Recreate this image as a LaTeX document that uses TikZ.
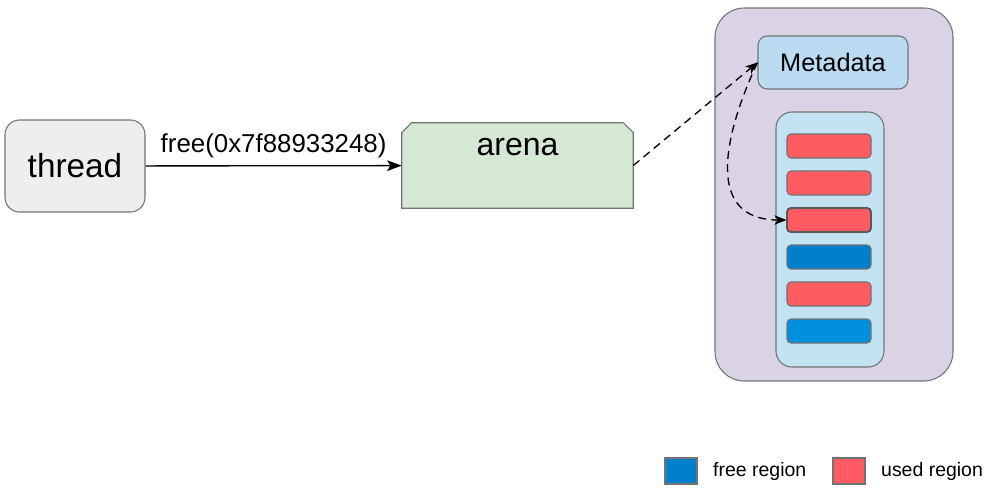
\documentclass[tikz,border=0pt]{standalone}
\usepackage{fontspec}
\setmainfont{Liberation Sans}
\usetikzlibrary{positioning, arrows.meta}
\definecolor{threadFill}{HTML}{EEEEEE}
\definecolor{arenaFill}{HTML}{D5E8D4}
\definecolor{heapFill}{HTML}{DAD3E6}
\definecolor{metaFill}{HTML}{BBDBF3}
\definecolor{listFill}{HTML}{C3E2F2}
\definecolor{usedRed}{HTML}{FF5B63}
\definecolor{freeBlue}{HTML}{007FCC}
\definecolor{freeBlueB}{HTML}{0090DE}
\colorlet{edge}{black!55}

\begin{document}
\begin{tikzpicture}[
  x=0.75pt, y=-0.75pt,
  >={Stealth[length=11pt, width=8pt, inset=2.5pt]},
  box/.style={draw=edge, line width=0.8pt, inner sep=0pt, align=center},
  region/.style={box, rounded corners=3pt, minimum width=63pt, minimum height=18pt},
  swatch/.style={box, minimum width=24pt, minimum height=19.5pt, line width=1.2pt},
  call/.style={->, line width=1pt},
  ptr/.style={-{Stealth[length=9pt, width=7pt, inset=2.5pt]}, line width=1pt, dashed,
              dash pattern=on 6pt off 4pt},
]
\useasboundingbox (0,0) rectangle (988,494);

% ── caller side ──────────────────────────────────────────────────────────────
\node[box, rounded corners=11pt, fill=threadFill, minimum width=105pt,
      minimum height=69pt, font=\fontsize{25}{28}\selectfont] (thread) at (75,166) {thread};

% arena: box with its two top corners cut off
\node[inner sep=0pt, minimum width=173.25pt, minimum height=63.75pt] (arena) at (517.5,165.5) {};
\filldraw[draw=edge, line width=0.8pt, fill=arenaFill]
  (arena.south west) -- ([yshift=-7.5pt]arena.north west) -- ([xshift=7.5pt]arena.north west)
  -- ([xshift=-7.5pt]arena.north east) -- ([yshift=-7.5pt]arena.north east)
  -- (arena.south east) -- cycle;
\node[font=\fontsize{24}{27}\selectfont, anchor=north] (arenalbl)
  at ([yshift=-8pt]arena.north) {arena};

\draw[call] (thread) -- node[above=2pt, font=\fontsize{19.4}{22}\selectfont] (calllbl)
  {free(0x7f88933248)} (arena);

% ── heap ─────────────────────────────────────────────────────────────────────
\node[box, rounded corners=22pt, fill=heapFill, minimum width=178.5pt,
      minimum height=279.75pt] (heap) at (834,194.5) {};
\node[box, rounded corners=7pt, fill=metaFill, minimum width=112.5pt,
      minimum height=39.75pt, font=\fontsize{19}{22}\selectfont] (meta) at (833,62.5) {Metadata};
\node[box, rounded corners=12pt, fill=listFill, minimum width=81pt,
      minimum height=191.25pt] (list) at (830,239.5) {};

% regions, top to bottom
\foreach \i/\y/\col in {1/146/usedRed, 2/183/usedRed, 3/220/usedRed,
                        4/257/freeBlue, 5/294/usedRed, 6/331/freeBlueB}{
  \node[region, fill=\col] (bar\i) at (829,\y) {};
}
\node[region, fill=usedRed, draw=black!65, line width=1.4pt] at (bar3) {};

\draw[ptr] (arena.east) -- (meta.west);
\draw[ptr] (meta.west) to[out=245, in=180, looseness=1.3] (bar3.west);

% ── legend ───────────────────────────────────────────────────────────────────
\node[swatch, fill=freeBlue] (freekey) at (681,471) {};
\node[font=\fontsize{14.6}{17}\selectfont, anchor=west, right=8pt of freekey] (freetxt) {free region};
\node[swatch, fill=usedRed] (usedkey) at (849,471) {};
\node[font=\fontsize{14.6}{17}\selectfont, anchor=west, right=8pt of usedkey] (usedtxt) {used region};

\end{tikzpicture}
\end{document}
